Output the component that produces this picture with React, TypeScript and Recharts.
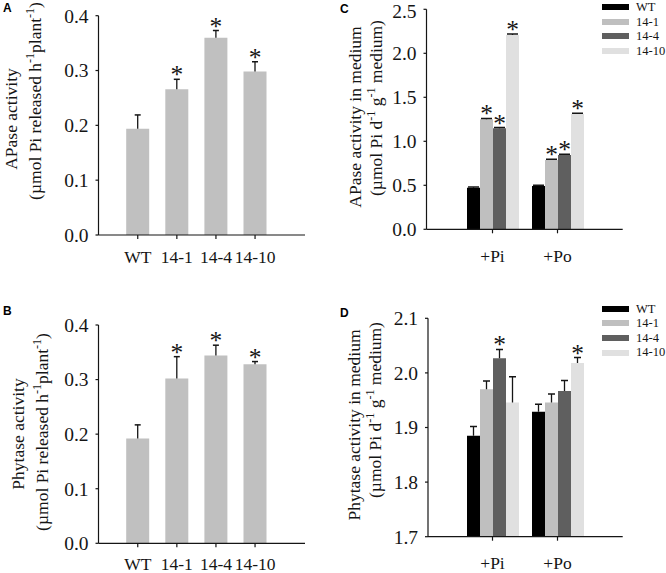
import React from 'react';
import { BarChart, Bar, XAxis, YAxis, Legend, LabelList } from 'recharts';

const genotypes = ['WT', '14-1', '14-4', '14-10'];
const treatments = ['+Pi', '+Po'];

// A: APase activity per plant
const apaseMean = [0.194, 0.266, 0.36, 0.298];
const apaseErr = [0.025, 0.018, 0.013, 0.018];
const apaseSig = [false, true, true, true];

// B: phytase activity per plant
const phytaseMean = [0.192, 0.302, 0.344, 0.328];
const phytaseErr = [0.025, 0.04, 0.019, 0.005];
const phytaseSig = [false, true, true, true];

// C: APase in medium, one pair (+Pi, +Po) per genotype
const mediumApaseMean = [[0.473, 0.492], [1.25, 0.787], [1.148, 0.844], [2.208, 1.31]];
const mediumApaseErr = [[0.008, 0.008], [0.01, 0.01], [0.008, 0.008], [0.01, 0.01]];
const mediumApaseSig = [[false, false], [true, true], [true, true], [true, true]];

// D: phytase in medium
const mediumPhytaseMean = [[1.885, 1.929], [1.97, 1.946], [2.027, 1.967], [1.946, 2.018]];
const mediumPhytaseErr = [[0.017, 0.0135], [0.015, 0.0155], [0.016, 0.019], [0.047, 0.01]];
const mediumPhytaseSig = [[false, false], [false, false], [true, false], [false, true]];

const genotypeColors = ['#000000', '#bfbfbf', '#5f5f5f', '#e0e0e0'];
const plainBarColor = '#c0c0c0';

const serif = '"Liberation Serif", "Times New Roman", serif';
const ink = '#151515';

const singleRows = (mean: number[], err: number[], sig: boolean[]) =>
  genotypes.map((g, i) => ({ name: g, mean: mean[i], err: err[i], star: sig[i] ? '*' : '' }));

const groupRows = (mean: number[][], err: number[][], sig: boolean[][]) =>
  treatments.map((t, j) => {
    const row: any = { name: t };
    genotypes.forEach((_, i) => {
      row['m' + i] = mean[i][j];
      row['e' + i] = err[i][j];
      row['s' + i] = sig[i][j] ? '*' : '';
    });
    return row;
  });

// error bar drawn as the upper stacked segment: stem + cap
const errorShape = (cap: number) => (p: any) => {
  const cx = p.x + p.width / 2;
  const top = p.y;
  const bottom = p.y + p.height;
  return (
    <g>
      <line x1={cx} x2={cx} y1={bottom} y2={top} stroke={ink} strokeWidth={1.3} />
      <line x1={cx - cap / 2} x2={cx + cap / 2} y1={top} y2={top} stroke={ink} strokeWidth={1.5} />
    </g>
  );
};

const starLabel = (props: any) => {
  if (!props.value) return null;
  const vb = props.viewBox ?? props;
  return (
    <text x={vb.x + vb.width / 2} y={vb.y + 4} textAnchor="middle" fontFamily={serif} fontSize={25.5} fill={ink}>
      {props.value}
    </text>
  );
};

type Part = [string, boolean];
type TitleLine = { parts: Part[]; x: number; cy: number };

const axisTitle = (lines: TitleLine[]) => () => (
  <g>
    {lines.map((ln, i) => (
      <text
        key={i}
        x={ln.x}
        y={ln.cy}
        transform={`rotate(-90, ${ln.x}, ${ln.cy})`}
        textAnchor="middle"
        fontFamily={serif}
        fontSize={17.5}
        fill={ink}
      >
        {ln.parts.map(([s, sup], j) => {
          const prevSup = j > 0 && ln.parts[j - 1][1];
          return (
            <tspan key={j} dy={sup ? -7 : prevSup ? 7 : 0} fontSize={sup ? 12 : 17.5}>
              {s}
            </tspan>
          );
        })}
      </text>
    ))}
  </g>
);

const perPlantUnit: Part[] = [['(\u00b5mol Pi released h', false], ['-1', true], ['plant', false], ['-1', true], [')', false]];
const mediumUnit: Part[] = [['(\u00b5mol Pi d', false], ['-1', true], [' g', false], ['-1', true], [' medium)', false]];

const yTickStyle = { fontFamily: serif, fontSize: 19.5, fill: ink };
const xTickStyle = { fontFamily: serif, fontSize: 17.5, fill: ink };
const fmt = (v: number) => v.toFixed(1);

const panelLetter = (text: string, left: number, top: number) => (
  <div
    style={{
      position: 'absolute',
      left,
      top,
      fontFamily: '"Liberation Sans", Arial, sans-serif',
      fontWeight: 'bold',
      fontSize: 12,
      lineHeight: '12px',
      color: '#000',
    }}
  >
    {text}
  </div>
);

const legendContent = () => (
  <div style={{ fontFamily: serif, fontSize: 12.5, color: ink, lineHeight: '14.6px' }}>
    {genotypes.map((g, i) => (
      <div key={g} style={{ display: 'flex', alignItems: 'center', height: 14.6 }}>
        <span style={{ display: 'inline-block', width: 27, height: 6, background: genotypeColors[i], marginRight: 7 }} />
        <span style={{ fontFamily: serif }}>{g}</span>
      </div>
    ))}
  </div>
);

function SinglePanel(props: {
  rows: any[];
  height: number;
  top: number;
  axisBottom: number;
  tickGap: number;
  title: TitleLine[];
}) {
  const { rows, height, top, axisBottom, tickGap, title } = props;
  return (
    <BarChart
      width={333}
      height={height}
      data={rows}
      margin={{ top, right: 28, bottom: 0, left: 0 }}
      barSize={23}
    >
      <XAxis
        dataKey="name"
        height={axisBottom}
        padding={{ left: 19.7, right: 30.4 }}
        tick={xTickStyle}
        tickSize={4}
        tickMargin={tickGap}
        stroke={ink}
        strokeWidth={1.2}
        interval={0}
      />
      <YAxis
        width={98.5}
        domain={[0, 0.4]}
        ticks={[0, 0.1, 0.2, 0.3, 0.4]}
        tickFormatter={fmt}
        tick={yTickStyle}
        tickSize={3}
        tickMargin={7}
        stroke={ink}
        strokeWidth={1.2}
        label={{ content: axisTitle(title) }}
      />
      <Bar dataKey="mean" stackId="s" fill={plainBarColor} isAnimationActive={false} />
      <Bar dataKey="err" stackId="s" shape={errorShape(6)} isAnimationActive={false}>
        <LabelList dataKey="star" content={starLabel} />
      </Bar>
    </BarChart>
  );
}

function GroupPanel(props: {
  rows: any[];
  height: number;
  top: number;
  axisLeft: number;
  axisBottom: number;
  tickGap: number;
  domain: [number, number];
  ticks: number[];
  pad: { left: number; right: number };
  legendTop: number;
  cap: number;
  title: TitleLine[];
}) {
  const { rows, height, top, axisLeft, axisBottom, tickGap, domain, ticks, pad, legendTop, cap, title } = props;
  return (
    <BarChart
      width={333}
      height={height}
      data={rows}
      margin={{ top, right: 43.3, bottom: 0, left: 0 }}
      barSize={13}
      barGap={0}
    >
      <XAxis
        dataKey="name"
        height={axisBottom}
        padding={pad}
        tick={xTickStyle}
        tickSize={4}
        tickMargin={tickGap}
        stroke={ink}
        strokeWidth={1.2}
        interval={0}
      />
      <YAxis
        width={axisLeft}
        domain={domain}
        ticks={ticks}
        allowDataOverflow
        tickFormatter={fmt}
        tick={yTickStyle}
        tickSize={3}
        tickMargin={7}
        stroke={ink}
        strokeWidth={1.2}
        label={{ content: axisTitle(title) }}
      />
      <Legend
        layout="vertical"
        align="center"
        verticalAlign="middle"
        wrapperStyle={{ left: 269, top: legendTop, width: 64, height: 60 }}
        content={legendContent}
      />
      {genotypes.map((g, i) => [
        <Bar key={'m' + i} dataKey={'m' + i} name={g} stackId={'s' + i} fill={genotypeColors[i]} isAnimationActive={false} />,
        <Bar key={'e' + i} dataKey={'e' + i} stackId={'s' + i} shape={errorShape(cap)} legendType="none" isAnimationActive={false}>
          <LabelList dataKey={'s' + i} content={starLabel} />
        </Bar>,
      ])}
    </BarChart>
  );
}

export default function App() {
  return (
    <div style={{ position: 'absolute', left: 0, top: 0, width: 666, height: 573, background: '#fff', overflow: 'hidden' }}>
      <div style={{ position: 'absolute', left: 0, top: 0 }}>
        <SinglePanel
          rows={singleRows(apaseMean, apaseErr, apaseSig)}
          height={285}
          top={15.7}
          axisBottom={50}
          tickGap={12}
          title={[
            { parts: [['APase activity', false]], x: 16.8, cy: 119 },
            { parts: perPlantUnit, x: 40.5, cy: 101 },
          ]}
        />
      </div>
      <div style={{ position: 'absolute', left: 0, top: 285 }}>
        <SinglePanel
          rows={singleRows(phytaseMean, phytaseErr, phytaseSig)}
          height={288}
          top={40}
          axisBottom={29.7}
          tickGap={10}
          title={[
            { parts: [['Phytase activity', false]], x: 24, cy: 149 },
            { parts: perPlantUnit, x: 47.5, cy: 147 },
          ]}
        />
      </div>
      <div style={{ position: 'absolute', left: 333, top: 0 }}>
        <GroupPanel
          rows={groupRows(mediumApaseMean, mediumApaseErr, mediumApaseSig)}
          height={285}
          top={9.3}
          axisLeft={93.5}
          axisBottom={55.7}
          tickGap={16}
          domain={[0, 2.5]}
          ticks={[0, 0.5, 1, 1.5, 2, 2.5]}
          pad={{ left: 33.5, right: 32.7 }}
          legendTop={0}
          cap={11}
          title={[
            { parts: [['APase activity in medium', false]], x: 27.6, cy: 117 },
            { parts: mediumUnit, x: 48.5, cy: 108 },
          ]}
        />
      </div>
      <div style={{ position: 'absolute', left: 333, top: 285 }}>
        <GroupPanel
          rows={groupRows(mediumPhytaseMean, mediumPhytaseErr, mediumPhytaseSig)}
          height={288}
          top={33.3}
          axisLeft={95}
          axisBottom={36.3}
          tickGap={16}
          domain={[1.7, 2.1]}
          ticks={[1.7, 1.8, 1.9, 2, 2.1]}
          pad={{ left: 32, right: 32.7 }}
          legendTop={16.5}
          cap={7}
          title={[
            { parts: [['Phytase activity in medium', false]], x: 26.6, cy: 140 },
            { parts: mediumUnit, x: 47.5, cy: 125 },
          ]}
        />
      </div>
      {panelLetter('A', 3, 2)}
      {panelLetter('B', 3, 305)}
      {panelLetter('C', 340, 3)}
      {panelLetter('D', 340, 307)}
    </div>
  );
}
